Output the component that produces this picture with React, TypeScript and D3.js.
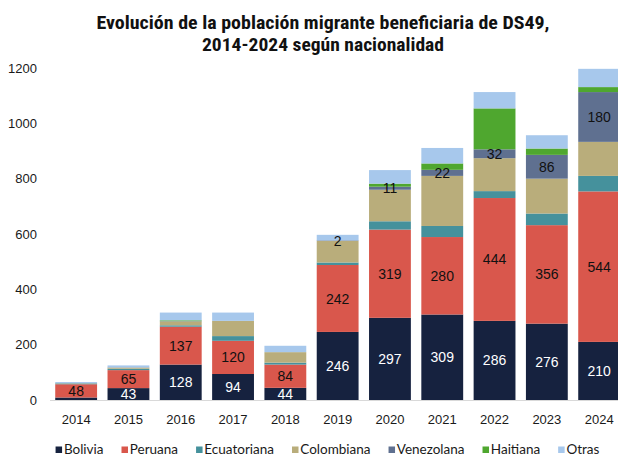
import React from "react";
import * as d3 from "d3";

const years = ["2014","2015","2016","2017","2018","2019","2020","2021","2022","2023","2024"];
const seriesNames = ["Bolivia","Peruana","Ecuatoriana","Colombiana","Venezolana","Haitiana","Otras"];
const bolivia = [9, 43, 128, 94, 44, 246, 297, 309, 286, 276, 210];
const peruana = [48, 65, 137, 120, 84, 242, 319, 280, 444, 356, 544];
const ecuatoriana = [3, 5, 5, 17, 7, 9, 30, 40, 25, 42, 56];
const colombiana = [1, 4, 14, 55, 38, 78, 114, 181, 119, 126, 123];
const venezolana = [0, 1, 1, 0, 0, 2, 11, 22, 32, 86, 180];
const haitiana = [0, 0, 3, 0, 0, 0, 11, 23, 148, 23, 18];
const otras = [4, 7, 28, 30, 23, 20, 49, 56, 59, 48, 66];
const yTicks = [0, 200, 400, 600, 800, 1000, 1200];
const titleLines = ["Evolución de la población migrante beneficiaria de DS49,", "2014-2024 según nacionalidad"];

const colors = ["#16223f", "#d9574c", "#45919c", "#b9ad7b", "#5f7090", "#4fa72f", "#a7c8ec"];
const labelMin: (number | null)[] = [20, 0, null, null, 2, null, null];
const labelColor = ["#ffffff", "#111111", "", "", "#111111", "", ""];

const W = 618, H = 457;

export default function App() {
  const valuesBySeries = [bolivia, peruana, ecuatoriana, colombiana, venezolana, haitiana, otras];
  const table = years.map((y, i) => {
    const row: any = { year: y };
    seriesNames.forEach((s, k) => (row[s] = valuesBySeries[k][i]));
    return row;
  });
  const stacked = d3.stack<any>().keys(seriesNames)(table);

  const x = d3.scaleBand<string>().domain(years).range([50, 625.3]).paddingInner(0.2).paddingOuter(0.1);
  const y = d3.scaleLinear().domain([0, 1200]).range([400, 68]);

  const legendFont = "13.5px Lato, 'Open Sans', sans-serif";
  let widths: number[] = seriesNames.map((s) => s.length * 6.5);
  if (typeof document !== "undefined") {
    const ctx = document.createElement("canvas").getContext("2d");
    if (ctx) {
      ctx.font = legendFont;
      widths = seriesNames.map((s) => ctx.measureText(s).width);
    }
  }
  const sq = 6.5, sqGap = 1.8, itemGap = 18;
  const total = widths.reduce((a, w) => a + sq + sqGap + w, 0) + itemGap * (seriesNames.length - 1);
  let lx = 327.5 - total / 2;
  const legendPos = widths.map((w) => {
    const p = lx;
    lx += sq + sqGap + w + itemGap;
    return p;
  });
  const titleWidths = [453, 242];

  return (
    <svg width={W} height={H} style={{ position: "absolute", left: 0, top: 0, background: "#fff" }}>
      <text textAnchor="middle" fontFamily="'Liberation Sans Narrow', 'Roboto Condensed', 'DejaVu Sans Condensed', sans-serif" fontWeight="bold" fontSize={18} fill="#111">
        {titleLines.map((t, i) => (
          <tspan key={i} x={323} y={28.5 + i * 22} textLength={titleWidths[i]} lengthAdjust="spacingAndGlyphs">{t}</tspan>
        ))}
      </text>

      {yTicks.map((t) => (
        <text key={t} x={37} y={y(t)} dy="0.35em" textAnchor="end" fontFamily="'Liberation Sans', Arial, sans-serif" fontSize={13} fill="#1a1a1a">{t}</text>
      ))}

      {stacked.map((layer, k) => (
        <g key={layer.key} fill={colors[k]}>
          {layer.map((d, i) => {
            const h = y(d[0]) - y(d[1]);
            if (h <= 0) return null;
            return <rect key={i} x={x(years[i])} y={y(d[1])} width={x.bandwidth()} height={h} />;
          })}
        </g>
      ))}

      <line x1={50} x2={618} y1={400.5} y2={400.5} stroke="#d9d9d9" strokeWidth={1} />

      {stacked.map((layer, k) => {
        const min = labelMin[k];
        if (min === null) return null;
        return (
          <g key={"l" + layer.key}>
            {layer.map((d, i) => {
              const v = valuesBySeries[k][i];
              if (v < min || v <= 0) return null;
              return (
                <text key={i} x={(x(years[i]) as number) + x.bandwidth() / 2} y={(y(d[0]) + y(d[1])) / 2} dy="0.36em" textAnchor="middle" fontFamily="'Liberation Sans', Arial, sans-serif" fontSize={14} fill={labelColor[k]}>{v}</text>
              );
            })}
          </g>
        );
      })}

      {years.map((yr) => (
        <text key={yr} x={(x(yr) as number) + x.bandwidth() / 2} y={424} textAnchor="middle" fontFamily="'Liberation Sans', Arial, sans-serif" fontSize={13} fill="#1a1a1a">{yr}</text>
      ))}

      {seriesNames.map((s, k) => (
        <g key={s}>
          <rect x={legendPos[k]} y={446.5} width={sq} height={sq} fill={colors[k]} />
          <text x={legendPos[k] + sq + sqGap} y={454} style={{ font: legendFont }} fill="#1a1a1a">{s}</text>
        </g>
      ))}
    </svg>
  );
}
